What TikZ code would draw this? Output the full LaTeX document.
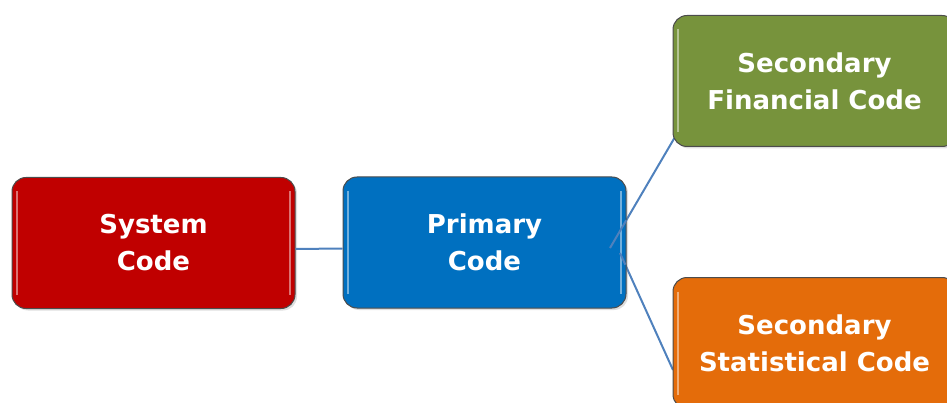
\documentclass[tikz,border=0pt]{standalone}
\usepackage{fontspec}
\setmainfont{DejaVu Sans}
\usepackage{tikz}
\usetikzlibrary{
	calc,
	shadows,
	positioning
}
\definecolor{sysred}{HTML}{C00000}
\definecolor{priblue}{HTML}{0070C0}
\definecolor{fingreen}{HTML}{77933C}
\definecolor{statorange}{HTML}{E46C0A}
\definecolor{linkblue}{HTML}{4F81BD}
\tikzset{every path/.append style={line width=0.5pt}}
\tikzset{
	codebox/.style={rectangle,rounded corners=14pt,draw=black!70,line width=1pt,
		minimum width=283pt,minimum height=131pt,align=center,text=white,
		font=\fontsize{26}{37}\selectfont\bfseries,
		drop shadow={opacity=0.25,shadow xshift=2pt,shadow yshift=-2pt},
		path picture={
			\draw[white,opacity=0.45,line width=2.5pt]
				($(path picture bounding box.north west)+(5pt,-14pt)$) --
				($(path picture bounding box.south west)+(5pt,14pt)$);
			\draw[white,opacity=0.45,line width=2.5pt]
				($(path picture bounding box.north east)+(-5pt,-14pt)$) --
				($(path picture bounding box.south east)+(-5pt,14pt)$);
		}},
	link/.style={draw=linkblue,line width=2pt}
}

\begin{document}
\begin{tikzpicture}[x=1pt,y=-1pt]
	\useasboundingbox (0,0) rectangle (947,403);
	
	% Connectors
	\coordinate (forkA) at (610,248);
	\coordinate (forkB) at (620,253);
	\coordinate (finIn) at (675,137);
	\coordinate (statIn) at (673,370);
	\draw[link] (forkA) -- (finIn);
	\draw[link] (forkB) -- (statIn);
	
	% Boxes
	\node[codebox,fill=sysred] (sys) at (153.5,243) {System\\Code};
	\node[codebox,fill=priblue] (pri) at (484.5,242.5) {Primary\\Code};
	\node[codebox,fill=fingreen] (fin) at (814.5,81) {Secondary\\Financial Code};
	\node[codebox,fill=statorange] (stat) at (814.5,343) {Secondary\\Statistical Code};
	
	\draw[link] ([yshift=-6pt]sys.east) -- ([yshift=-6pt]pri.west);
	% Lines drawn over the primary box edge
	\draw[link] (forkA) -- ($(forkA)!0.25!(finIn)$);
	\draw[link] (forkB) -- ($(forkB)!0.1!(statIn)$);
\end{tikzpicture}
\end{document}
